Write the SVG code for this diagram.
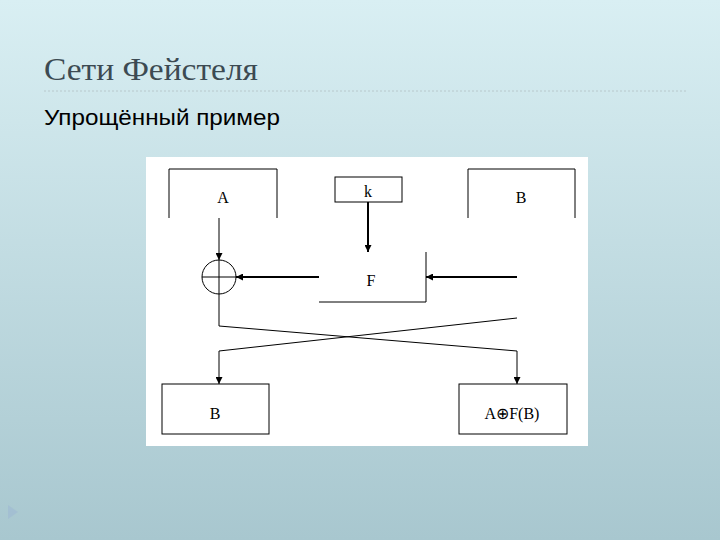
<svg xmlns="http://www.w3.org/2000/svg" width="720" height="540" viewBox="0 0 720 540">
<defs>
<linearGradient id="bg" x1="0" y1="0" x2="0" y2="1">
<stop offset="0" stop-color="#d9eff3"/>
<stop offset="1" stop-color="#a8c7cf"/>
</linearGradient>
<marker id="ah" viewBox="0 0 10 10" refX="10" refY="5" markerWidth="7" markerHeight="7" markerUnits="userSpaceOnUse" orient="auto">
<path d="M0,0 L10,5 L0,10 z" fill="#000"/>
</marker>
</defs>
<style>
.ln{fill:none;stroke:#000;stroke-width:1}
.th{fill:none;stroke:#000;stroke-width:2}
.bx{fill:#fff;stroke:#000;stroke-width:1}
.lb{font-family:"Liberation Serif",serif;font-size:16px;fill:#000;text-anchor:middle}
</style>
<rect x="0" y="0" width="720" height="540" fill="url(#bg)"/>
<text x="44" y="80" font-family="'Liberation Serif','DejaVu Serif',serif" font-size="31" fill="#3c4a52" textLength="214" lengthAdjust="spacingAndGlyphs">Сети Фейстеля</text>
<line x1="44" y1="91" x2="686" y2="91" stroke="#b8c8cc" stroke-width="1" stroke-dasharray="2,2"/>
<text x="44" y="125" font-family="'Liberation Sans',Arial,sans-serif" font-size="22" fill="#000" textLength="236" lengthAdjust="spacingAndGlyphs">Упрощённый пример</text>
<path d="M8,505 L18,512 L8,519 z" fill="#9fb9d2" opacity="0.6"/>
<rect x="146" y="157" width="442" height="289" fill="#fff"/>
<g id="nodeA"><path class="ln" d="M169,218 V169 H277 V218"/><text class="lb" x="223" y="203">A</text></g>
<g id="nodeK"><rect class="bx" x="335" y="177" width="67" height="25"/><text class="lb" x="368" y="197">k</text></g>
<g id="nodeB"><path class="ln" d="M468,218 V169 H575 V218"/><text class="lb" x="521" y="203">B</text></g>
<g id="nodeF"><path class="ln" d="M426,252 V302 H319"/><text class="lb" x="371" y="286">F</text></g>
<g id="xor"><circle class="ln" cx="219" cy="277" r="17"/><line class="ln" x1="202" y1="277" x2="236" y2="277"/></g>
<g id="nodeB2"><rect class="bx" x="162" y="384" width="107" height="50"/><text class="lb" x="215" y="419">B</text></g>
<g id="nodeAF"><rect class="bx" x="459" y="384" width="108" height="50"/><text class="lb" x="512" y="419">A⊕F(B)</text></g>
<g id="connectors">
<line class="ln" x1="219" y1="218" x2="219" y2="260" marker-end="url(#ah)"/>
<line class="th" x1="368" y1="202" x2="368" y2="252" marker-end="url(#ah)"/>
<line class="th" x1="517" y1="277" x2="426" y2="277" marker-end="url(#ah)"/>
<line class="th" x1="319" y1="277" x2="236" y2="277" marker-end="url(#ah)"/>
<path class="ln" d="M219,260 V326 L517,351 V384" marker-end="url(#ah)"/>
<path class="ln" d="M517,318 L219,351 V384" marker-end="url(#ah)"/>
</g>
</svg>
